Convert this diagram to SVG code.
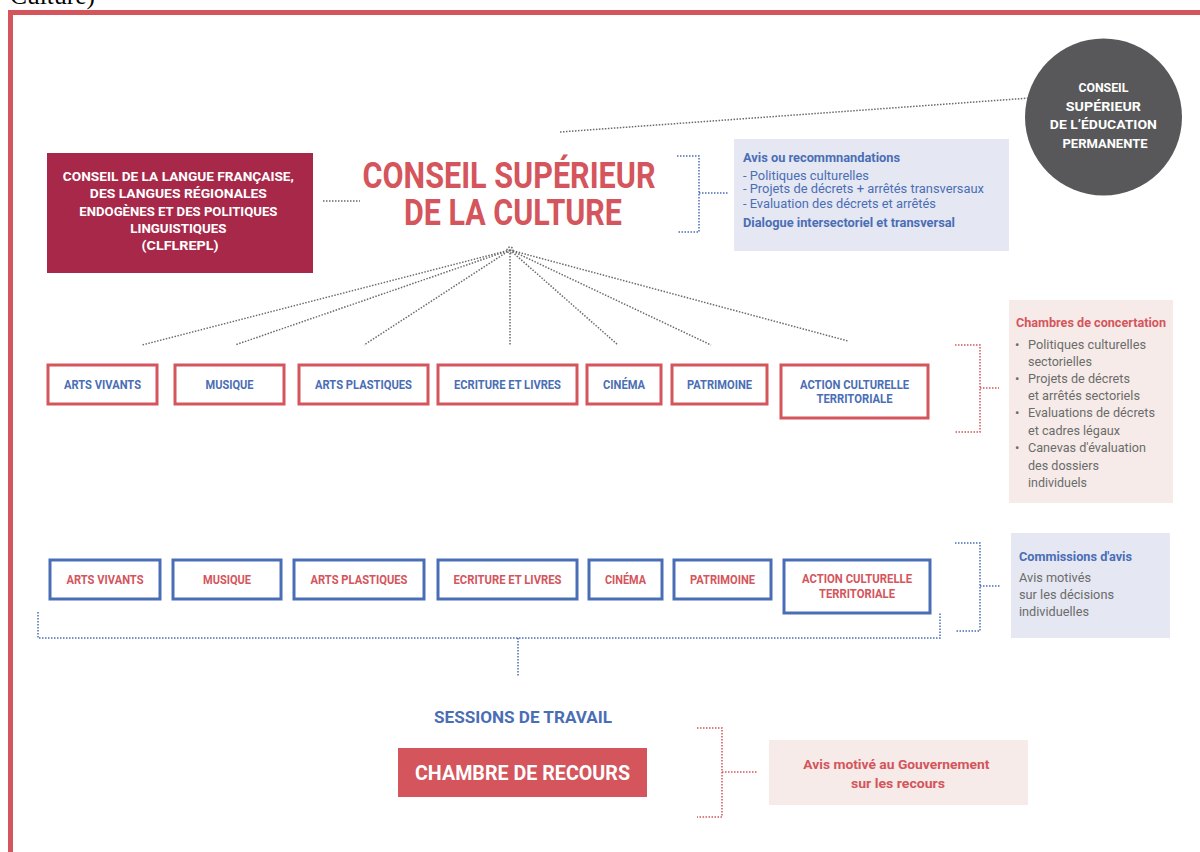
<svg xmlns="http://www.w3.org/2000/svg" width="1200" height="852" viewBox="0 0 1200 852">
<style>
.t{font-family:Roboto,"Liberation Sans",sans-serif}
.b{font-weight:700}
.w{fill:#fff}
.rd{fill:#d4555c}
.bl{fill:#4a6eb5}
.gy{fill:#6b6b6b}
.rbox{fill:#fff;stroke:#d4555c;stroke-width:3}
.bbox{fill:#fff;stroke:#4a6eb5;stroke-width:3}
.dg{fill:none;stroke:#6a6a6a;stroke-width:1.5;stroke-dasharray:1.5 1.5}
.db{fill:none;stroke:#4a6eb5;stroke-width:1.5;stroke-dasharray:1.5 1.5}
.dr{fill:none;stroke:#d4555c;stroke-width:1.5;stroke-dasharray:1.5 1.5}
</style>
<rect width="1200" height="852" fill="#fff"/>
<text x="10" y="4" font-family="'Liberation Serif',serif" font-size="25" textLength="85" lengthAdjust="spacingAndGlyphs" fill="#000">Culture)</text>
<rect x="10.5" y="12.5" width="1230" height="900" fill="none" stroke="#d4555c" stroke-width="5"/>

<g id="connectors">
<path class="dg" d="M560 132 L1030 98"/>
<path class="dg" d="M323 201 H360"/>
<path class="dg" d="M510 250 L142 345 M510 250 L235 345 M510 250 L364 345 M510 250 L510 345 M510 250 L618 345 M510 250 L711 345 M510 250 L848 341"/>
<circle cx="510" cy="250" r="3" class="dg"/>
<path class="db" d="M677 156 H699 V232 H677 M699 193 H728"/>
<path class="dr" d="M955 345 H980 V432 H955 M980 388 H999"/>
<path class="db" d="M955 543 H980 V631 H955 M980 586 H1000"/>
<path class="db" d="M38 612 V638 H940 V612 M518 638 V676"/>
<path class="dr" d="M697 728 H722 V817 H697 M722 772 H757"/>
</g>

<g id="cesp">
<circle cx="1103.5" cy="117" r="78.5" fill="#58585a"/>
<text class="t b w" font-size="13" text-anchor="middle">
<tspan x="1105" y="92" textLength="50" lengthAdjust="spacingAndGlyphs">CONSEIL</tspan>
<tspan x="1105" y="110.5" textLength="75" lengthAdjust="spacingAndGlyphs">SUPÉRIEUR</tspan>
<tspan x="1105" y="129" textLength="107" lengthAdjust="spacingAndGlyphs">DE L’ÉDUCATION</tspan>
<tspan x="1105" y="147.5" textLength="85" lengthAdjust="spacingAndGlyphs">PERMANENTE</tspan>
</text>
</g>

<g id="clflrepl">
<rect x="47" y="153" width="266" height="120" fill="#a8284a"/>
<text class="t b w" font-size="13" text-anchor="middle">
<tspan x="180" y="181" textLength="231" lengthAdjust="spacingAndGlyphs">CONSEIL DE LA LANGUE FRANÇAISE,</tspan>
<tspan x="180" y="198" textLength="177" lengthAdjust="spacingAndGlyphs">DES LANGUES RÉGIONALES</tspan>
<tspan x="180" y="216" textLength="198" lengthAdjust="spacingAndGlyphs">ENDOGÈNES ET DES POLITIQUES</tspan>
<tspan x="180" y="233" textLength="96" lengthAdjust="spacingAndGlyphs">LINGUISTIQUES</tspan>
<tspan x="180" y="250" textLength="77" lengthAdjust="spacingAndGlyphs">(CLFLREPL)</tspan>
</text>
</g>

<g id="csc">
<text class="t b rd" font-size="36" text-anchor="middle">
<tspan x="513.5" y="188" textLength="293" lengthAdjust="spacingAndGlyphs">CONSEIL SUPÉRIEUR</tspan>
<tspan x="513" y="225" textLength="218" lengthAdjust="spacingAndGlyphs">DE LA CULTURE</tspan>
</text>
</g>

<g id="avis-box">
<rect x="734" y="139" width="275" height="112" fill="#e5e7f2"/>
<text class="t bl" font-size="12.5">
<tspan class="b" x="743" y="161.5" textLength="157" lengthAdjust="spacingAndGlyphs">Avis ou recommnandations</tspan>
<tspan x="743" y="179.5" textLength="126" lengthAdjust="spacingAndGlyphs">- Politiques culturelles</tspan>
<tspan x="743" y="193" textLength="241" lengthAdjust="spacingAndGlyphs">- Projets de décrets + arrêtés transversaux</tspan>
<tspan x="743" y="207.5" textLength="193" lengthAdjust="spacingAndGlyphs">- Evaluation des décrets et arrêtés</tspan>
<tspan class="b" x="743" y="226.5" textLength="212" lengthAdjust="spacingAndGlyphs">Dialogue intersectoriel et transversal</tspan>
</text>
</g>

<g id="chambres-row">
<g id="c-arts-vivants"><rect class="rbox" x="48" y="365" width="109" height="39"/><text class="t b bl" font-size="12" x="102.5" y="389" text-anchor="middle" textLength="77" lengthAdjust="spacingAndGlyphs">ARTS VIVANTS</text></g>
<g id="c-musique"><rect class="rbox" x="175" y="365" width="109" height="39"/><text class="t b bl" font-size="12" x="229.5" y="389" text-anchor="middle" textLength="48" lengthAdjust="spacingAndGlyphs">MUSIQUE</text></g>
<g id="c-arts-plastiques"><rect class="rbox" x="299" y="365" width="129" height="39"/><text class="t b bl" font-size="12" x="363.5" y="389" text-anchor="middle" textLength="97" lengthAdjust="spacingAndGlyphs">ARTS PLASTIQUES</text></g>
<g id="c-ecriture"><rect class="rbox" x="438" y="365" width="139" height="39"/><text class="t b bl" font-size="12" x="507.5" y="389" text-anchor="middle" textLength="107" lengthAdjust="spacingAndGlyphs">ECRITURE ET LIVRES</text></g>
<g id="c-cinema"><rect class="rbox" x="587" y="365" width="74" height="39"/><text class="t b bl" font-size="12" x="624" y="389" text-anchor="middle" textLength="42" lengthAdjust="spacingAndGlyphs">CINÉMA</text></g>
<g id="c-patrimoine"><rect class="rbox" x="672" y="365" width="95" height="39"/><text class="t b bl" font-size="12" x="719.5" y="389" text-anchor="middle" textLength="65" lengthAdjust="spacingAndGlyphs">PATRIMOINE</text></g>
<g id="c-action"><rect class="rbox" x="781" y="365" width="147" height="53"/><text class="t b bl" font-size="12" text-anchor="middle"><tspan x="854.5" y="388.5" textLength="109" lengthAdjust="spacingAndGlyphs">ACTION CULTURELLE</tspan><tspan x="854.5" y="403" textLength="76" lengthAdjust="spacingAndGlyphs">TERRITORIALE</tspan></text></g>
</g>

<g id="chambres-box">
<rect x="1009" y="300" width="164" height="203" fill="#f6ebe8"/>
<text class="t b rd" font-size="13" x="1016" y="326.5" textLength="150" lengthAdjust="spacingAndGlyphs">Chambres de concertation</text>
<text class="t gy" font-size="13">
<tspan x="1015" y="348.5">•</tspan>
<tspan x="1028" y="348.5" textLength="118" lengthAdjust="spacingAndGlyphs">Politiques culturelles</tspan>
<tspan x="1028" y="366" textLength="64" lengthAdjust="spacingAndGlyphs">sectorielles</tspan>
<tspan x="1015" y="383">•</tspan>
<tspan x="1028" y="383" textLength="102" lengthAdjust="spacingAndGlyphs">Projets de décrets</tspan>
<tspan x="1028" y="400" textLength="112" lengthAdjust="spacingAndGlyphs">et arrêtés sectoriels</tspan>
<tspan x="1015" y="417">•</tspan>
<tspan x="1028" y="417" textLength="127" lengthAdjust="spacingAndGlyphs">Evaluations de décrets</tspan>
<tspan x="1028" y="434.5" textLength="92" lengthAdjust="spacingAndGlyphs">et cadres légaux</tspan>
<tspan x="1015" y="452">•</tspan>
<tspan x="1028" y="452" textLength="118" lengthAdjust="spacingAndGlyphs">Canevas d'évaluation</tspan>
<tspan x="1028" y="469.5" textLength="71" lengthAdjust="spacingAndGlyphs">des dossiers</tspan>
<tspan x="1028" y="487" textLength="59" lengthAdjust="spacingAndGlyphs">individuels</tspan>
</text>
</g>

<g id="commissions-row">
<g id="m-arts-vivants"><rect class="bbox" x="50" y="560" width="110" height="39"/><text class="t b rd" font-size="12" x="105" y="583.5" text-anchor="middle" textLength="77" lengthAdjust="spacingAndGlyphs">ARTS VIVANTS</text></g>
<g id="m-musique"><rect class="bbox" x="173" y="560" width="108" height="39"/><text class="t b rd" font-size="12" x="227" y="583.5" text-anchor="middle" textLength="48" lengthAdjust="spacingAndGlyphs">MUSIQUE</text></g>
<g id="m-arts-plastiques"><rect class="bbox" x="294" y="560" width="130" height="39"/><text class="t b rd" font-size="12" x="359" y="583.5" text-anchor="middle" textLength="97" lengthAdjust="spacingAndGlyphs">ARTS PLASTIQUES</text></g>
<g id="m-ecriture"><rect class="bbox" x="438" y="560" width="139" height="39"/><text class="t b rd" font-size="12" x="507.5" y="583.5" text-anchor="middle" textLength="108" lengthAdjust="spacingAndGlyphs">ECRITURE ET LIVRES</text></g>
<g id="m-cinema"><rect class="bbox" x="589" y="560" width="73" height="39"/><text class="t b rd" font-size="12" x="625.5" y="583.5" text-anchor="middle" textLength="41" lengthAdjust="spacingAndGlyphs">CINÉMA</text></g>
<g id="m-patrimoine"><rect class="bbox" x="674" y="560" width="97" height="39"/><text class="t b rd" font-size="12" x="722.5" y="583.5" text-anchor="middle" textLength="65" lengthAdjust="spacingAndGlyphs">PATRIMOINE</text></g>
<g id="m-action"><rect class="bbox" x="784" y="560" width="146" height="53"/><text class="t b rd" font-size="12" text-anchor="middle"><tspan x="857" y="583" textLength="110" lengthAdjust="spacingAndGlyphs">ACTION CULTURELLE</tspan><tspan x="857" y="597.5" textLength="76" lengthAdjust="spacingAndGlyphs">TERRITORIALE</tspan></text></g>
</g>

<g id="commissions-box">
<rect x="1011" y="533" width="159" height="105" fill="#e5e7f2"/>
<text class="t b bl" font-size="13" x="1019" y="560.5" textLength="113" lengthAdjust="spacingAndGlyphs">Commissions d'avis</text>
<text class="t gy" font-size="13">
<tspan x="1019" y="581.5" textLength="72" lengthAdjust="spacingAndGlyphs">Avis motivés</tspan>
<tspan x="1019" y="598.5" textLength="95" lengthAdjust="spacingAndGlyphs">sur les décisions</tspan>
<tspan x="1019" y="615.5" textLength="70" lengthAdjust="spacingAndGlyphs">individuelles</tspan>
</text>
</g>

<g id="sessions">
<text class="t b bl" font-size="16" x="523" y="723" text-anchor="middle" textLength="178" lengthAdjust="spacingAndGlyphs">SESSIONS DE TRAVAIL</text>
</g>

<g id="chambre-recours">
<rect x="398" y="748" width="249" height="49" fill="#d4555c"/>
<text class="t b w" font-size="20" x="522.5" y="780" text-anchor="middle" textLength="215" lengthAdjust="spacingAndGlyphs">CHAMBRE DE RECOURS</text>
</g>

<g id="avis-recours">
<rect x="769" y="740" width="259" height="65" fill="#f6ebe8"/>
<text class="t b rd" font-size="13.5" text-anchor="middle">
<tspan x="898" y="769" textLength="186" lengthAdjust="spacingAndGlyphs">Avis motivé au Gouvernement</tspan>
<tspan x="898" y="788" textLength="94" lengthAdjust="spacingAndGlyphs">sur les recours</tspan>
</text>
</g>
</svg>
